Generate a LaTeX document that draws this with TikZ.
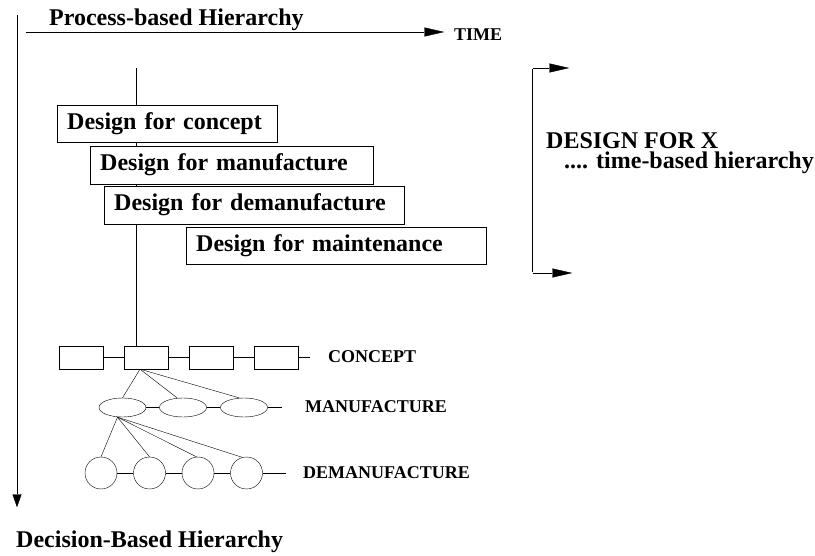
\documentclass[tikz,border=0pt]{standalone}
\usepackage{fontspec}
\setmainfont{Liberation Serif}
\usepackage{tikz}
\usetikzlibrary{positioning}
\usetikzlibrary{arrows.meta}
\usetikzlibrary{shapes.geometric}
\pgfdeclarelayer{nodelayer}
\pgfdeclarelayer{edgelayer}
\pgfsetlayers{edgelayer,nodelayer,main}
\tikzset{
    none/.style = {inner sep=0pt},
    big/.style = {inner sep=0pt, font=\fontsize{24}{28}\selectfont\bfseries},
    small/.style = {inner sep=0pt, font=\fontsize{18}{21}\selectfont\bfseries},
    stage/.style = {draw, fill=white, anchor=north west, align=left, inner xsep=10pt,
                    font=\fontsize{24}{28}\selectfont\bfseries},
    cbox/.style = {draw, fill=white, minimum width=44pt, minimum height=23pt, inner sep=0pt},
    mell/.style = {draw, fill=white, ellipse, minimum width=47pt, minimum height=19pt, inner sep=0pt},
    dcirc/.style = {draw, fill=white, circle, minimum size=32pt, inner sep=0pt},
    head/.style = {-{Triangle[length=20pt, width=9pt]}},
    thin head/.style = {-{Triangle[length=13pt, width=9pt]}}
}

\begin{document}
\begin{tikzpicture}[x=10pt, y=10pt, line width=0.9pt]
  \useasboundingbox (0, 0) rectangle (81.5, -55.6);
  \begin{pgfonlayer}{nodelayer}
    % axes
    \node [big, anchor=base west] (0) at (4.9, -2.6) {Process-based Hierarchy};
    \node [small, anchor=base west] (1) at (45.4, -4.05) {TIME};
    \node [style=none] (2) at (2.5, -3.2) {};
    \node [style=none] (3) at (44.5, -3.2) {};
    \node [style=none] (4) at (1.7, -1.4) {};
    \node [style=none] (5) at (1.7, -50.8) {};
    \node [big, anchor=base west] (6) at (1.6, -54.7) {Decision-Based Hierarchy};
    \node [style=none] (7) at (13.6, -6.7) {};
    % design stages
    \node [stage, text width=200pt, minimum height=37pt] (8) at (5.7, -10.5) {Design for concept};
    \node [stage, text width=263pt, minimum height=38pt] (9) at (9.0, -14.6) {Design for manufacture};
    \node [stage, text width=280pt, minimum height=38pt] (10) at (10.4, -18.6) {Design for demanufacture};
    \node [stage, text width=280pt, minimum height=37pt] (11) at (18.6, -22.7) {Design for maintenance};
    % bracket
    \node [style=none] (12) at (57.0, -6.8) {};
    \node [style=none] (13) at (53.2, -6.8) {};
    \node [style=none] (14) at (53.2, -27.3) {};
    \node [style=none] (15) at (57.3, -27.3) {};
    \node [big, anchor=base west, align=left, font=\fontsize{24}{19.5}\selectfont\bfseries] (16) at (54.6, -16.85)
      {DESIGN FOR X\\\hspace*{18pt}.... time-based hierarchy};
    % concept row
    \node [cbox] (18) at (8.15, -35.75) {};
    \node [cbox] (19) at (14.6, -35.75) {};
    \node [cbox] (20) at (21.1, -35.75) {};
    \node [cbox] (21) at (27.6, -35.75) {};
    \node [style=none] (22) at (31.1, -35.75) {};
    \node [small, anchor=west] (23) at (32.8, -35.7) {CONCEPT};
    % manufacture row
    \node [mell] (24) at (12.25, -40.75) {};
    \node [mell] (25) at (18.3, -40.75) {};
    \node [mell] (26) at (24.4, -40.75) {};
    \node [style=none] (27) at (28.3, -40.75) {};
    \node [small, anchor=west] (28) at (30.5, -40.7) {MANUFACTURE};
    % demanufacture row
    \node [dcirc] (29) at (10.1, -47.3) {};
    \node [dcirc] (30) at (14.95, -47.3) {};
    \node [dcirc] (31) at (19.8, -47.3) {};
    \node [dcirc] (32) at (24.65, -47.3) {};
    \node [style=none] (33) at (28.7, -47.3) {};
    \node [small, anchor=west] (34) at (30.3, -47.3) {DEMANUFACTURE};
  \end{pgfonlayer}
  \begin{pgfonlayer}{edgelayer}
    \draw [head] (2) to (3);
    \draw [thin head] (4) to (5);
    \draw (7) to (7 |- 19.north);
    \draw [head] (13) to (12);
    \draw (13) to (14);
    \draw [head] (14) to (15);
    \draw (18) to (19);
    \draw (19) to (20);
    \draw (20) to (21);
    \draw (21) to (22);
    \draw (24) to (25);
    \draw (25) to (26);
    \draw (26) to (27);
    \draw (29) to (30);
    \draw (30) to (31);
    \draw (31) to (32);
    \draw (32) to (33);
    \draw ([xshift=-6pt]19.south) to (24.north);
    \draw ([xshift=-6pt]19.south) to ([xshift=-6pt]25.north);
    \draw ([xshift=-6pt]19.south) to ([xshift=-5pt]26.north);
    \draw ([xshift=-5pt]24.south) to (29.north);
    \draw ([xshift=-5pt]24.south) to (30.north);
    \draw ([xshift=-5pt]24.south) to (31.95);
    \draw ([xshift=-5pt]24.south) to (32.105);
  \end{pgfonlayer}
\end{tikzpicture}
\end{document}
